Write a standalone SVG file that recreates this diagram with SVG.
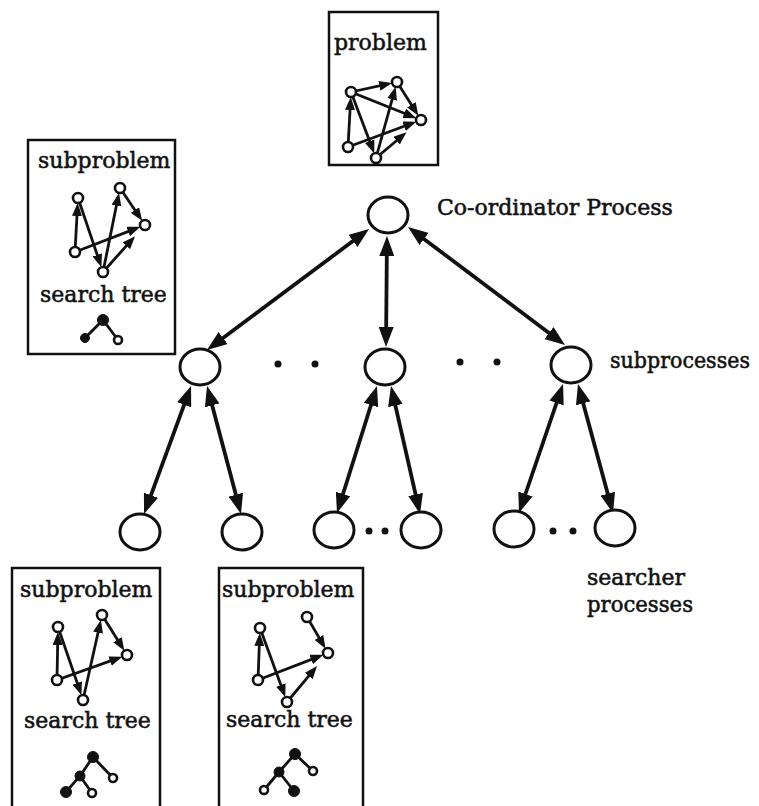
<svg xmlns="http://www.w3.org/2000/svg" width="759" height="806" viewBox="0 0 759 806">
  <style>
    .lbl { font-family: "DejaVu Serif", "Liberation Serif", serif; font-size: 22px; fill: #111; stroke: #111; stroke-width: 0.55; }
    .box { fill: #fff; stroke: #111; stroke-width: 2.5; }
    .proc { fill: #fff; stroke: #111; stroke-width: 3; }
    .link { fill: none; stroke: #111; stroke-width: 3.8; marker-start: url(#big); marker-end: url(#big); }
    .edge { fill: none; stroke: #111; stroke-width: 2.8; marker-end: url(#small); }
    .tedge { fill: none; stroke: #111; stroke-width: 2.8; }
    .v { fill: #fff; stroke: #111; stroke-width: 2.6; }
    .vf { fill: #111; stroke: #111; stroke-width: 1; }
    .dot { fill: #111; }
  </style>
  <defs>
    <marker id="big" viewBox="0 0 20 15" refX="10" refY="7.5" markerWidth="20" markerHeight="15" markerUnits="userSpaceOnUse" orient="auto-start-reverse">
      <path d="M0,0 L20,7.5 L0,15 z" fill="#111"/>
    </marker>
    <marker id="small" viewBox="0 0 13 10" refX="8" refY="5" markerWidth="13" markerHeight="10" markerUnits="userSpaceOnUse" orient="auto">
      <path d="M0,0 L13,5 L0,10 z" fill="#111"/>
    </marker>
  </defs>

  <!-- problem held by the co-ordinator -->
  <g id="problem-box">
    <rect class="box" x="329" y="12" width="109" height="153"/>
    <text class="lbl" x="334" y="50">problem</text>
    <path class="edge" d="M351,92 L387.2,84.1"/>
    <path class="edge" d="M351,92 L411.7,116.3"/>
    <path class="edge" d="M397,82 L415.7,111.5"/>
    <path class="edge" d="M348,147 L350.5,102"/>
    <path class="edge" d="M351,92 L372.5,148.7"/>
    <path class="edge" d="M376,158 L394.3,91.6"/>
    <path class="edge" d="M348,147 L411.6,123.5"/>
    <path class="edge" d="M376,158 L402.7,135.5"/>
    <circle class="v" cx="351" cy="92" r="5"/>
    <circle class="v" cx="397" cy="82" r="5"/>
    <circle class="v" cx="421" cy="120" r="5"/>
    <circle class="v" cx="348" cy="147" r="5"/>
    <circle class="v" cx="376" cy="158" r="5"/>
  </g>

  <!-- subproblem of a subprocess -->
  <g id="sub-box">
    <rect class="box" x="28" y="140" width="147" height="214"/>
    <text class="lbl" x="38" y="168">subproblem</text>
    <path class="edge" d="M75,252 L77.4,208"/>
    <path class="edge" d="M78,198 L99.8,262.5"/>
    <path class="edge" d="M103,272 L118,197.8"/>
    <path class="edge" d="M120,188 L139.4,216.7"/>
    <path class="edge" d="M75,252 L135.7,228.6"/>
    <path class="edge" d="M103,272 L131.7,239.9"/>
    <circle class="v" cx="78" cy="198" r="5"/>
    <circle class="v" cx="120" cy="188" r="5"/>
    <circle class="v" cx="145" cy="225" r="5"/>
    <circle class="v" cx="75" cy="252" r="5"/>
    <circle class="v" cx="103" cy="272" r="5"/>
    <text class="lbl" x="40" y="302">search tree</text>
    <path class="tedge" d="M85,338 L103,320 L118,340"/>
    <circle class="vf" cx="103" cy="320" r="5.5"/>
    <circle class="vf" cx="85" cy="338" r="4.5"/>
    <circle class="v" cx="118" cy="340" r="4"/>
  </g>

  <!-- subproblems of two searcher processes -->
  <g id="searcher-box-1">
    <rect class="box" x="12" y="568" width="148" height="260"/>
    <text class="lbl" x="20" y="597">subproblem</text>
    <path class="edge" d="M57,680 L57.8,637"/>
    <path class="edge" d="M58,627 L79.8,690.5"/>
    <path class="edge" d="M83,700 L99.8,624.8"/>
    <path class="edge" d="M102,615 L121.7,646.5"/>
    <path class="edge" d="M57,680 L117.6,658.4"/>
    <circle class="v" cx="58" cy="627" r="5"/>
    <circle class="v" cx="102" cy="615" r="5"/>
    <circle class="v" cx="127" cy="655" r="5"/>
    <circle class="v" cx="57" cy="680" r="5"/>
    <circle class="v" cx="83" cy="700" r="5"/>
    <text class="lbl" x="24" y="728">search tree</text>
    <path class="tedge" d="M113,778 L93,757 L80,776 L66,792 M80,776 L92,793"/>
    <circle class="vf" cx="93" cy="757" r="5.5"/>
    <circle class="vf" cx="80" cy="776" r="5"/>
    <circle class="v" cx="113" cy="778" r="4"/>
    <circle class="vf" cx="66" cy="792" r="5.5"/>
    <circle class="v" cx="92" cy="793" r="4"/>
  </g>

  <g id="searcher-box-2">
    <rect class="box" x="219" y="568" width="144" height="260"/>
    <text class="lbl" x="222" y="597">subproblem</text>
    <path class="edge" d="M258,680 L259.6,638"/>
    <path class="edge" d="M260,628 L283.6,692.6"/>
    <path class="edge" d="M307,617 L323,644.4"/>
    <path class="edge" d="M258,680 L318.7,656.6"/>
    <path class="edge" d="M287,702 L313.9,669.9"/>
    <circle class="v" cx="260" cy="628" r="5"/>
    <circle class="v" cx="307" cy="617" r="5"/>
    <circle class="v" cx="328" cy="653" r="5"/>
    <circle class="v" cx="258" cy="680" r="5"/>
    <circle class="v" cx="287" cy="702" r="5"/>
    <text class="lbl" x="226" y="727">search tree</text>
    <path class="tedge" d="M313,771 L295,754 L279,772 L264,790 M279,772 L294,791"/>
    <circle class="vf" cx="295" cy="754" r="5.5"/>
    <circle class="vf" cx="279" cy="772" r="5"/>
    <circle class="v" cx="313" cy="771" r="4"/>
    <circle class="v" cx="264" cy="790" r="4"/>
    <circle class="vf" cx="294" cy="791" r="5.5"/>
  </g>

  <!-- process tree -->
  <g id="connectors">
    <path class="link" d="M361,235 L215,344"/>
    <path class="link" d="M386.9,246 L386.1,337"/>
    <path class="link" d="M416,233 L557,339"/>
    <path class="link" d="M187.6,395.4 L147.5,504.6"/>
    <path class="link" d="M209.6,395.7 L238.4,504.3"/>
    <path class="link" d="M374,395.5 L340,503.5"/>
    <path class="link" d="M393.2,395.8 L417.8,504.2"/>
    <path class="link" d="M559.8,393.5 L522.2,503.5"/>
    <path class="link" d="M580.6,393.7 L610.4,503.4"/>
  </g>

  <g id="coordinator">
    <ellipse class="proc" cx="388" cy="215" rx="20" ry="18"/>
    <text class="lbl" x="437" y="215">Co-ordinator Process</text>
  </g>

  <g id="subprocess-1"><ellipse class="proc" cx="200" cy="367" rx="20" ry="18"/></g>
  <g id="subprocess-2"><ellipse class="proc" cx="385" cy="367" rx="20" ry="18"/></g>
  <g id="subprocess-3"><ellipse class="proc" cx="571" cy="365" rx="20" ry="18"/></g>
  <g id="subprocess-gaps">
    <circle class="dot" cx="278" cy="364" r="3.5"/>
    <circle class="dot" cx="315" cy="364" r="3.5"/>
    <circle class="dot" cx="460" cy="362" r="3.5"/>
    <circle class="dot" cx="497" cy="362" r="3.5"/>
  </g>
  <g id="subprocesses-label">
    <text class="lbl" x="610" y="368" textLength="140" lengthAdjust="spacingAndGlyphs">subprocesses</text>
  </g>

  <g id="searcher-1"><ellipse class="proc" cx="140" cy="532" rx="20" ry="18"/></g>
  <g id="searcher-2"><ellipse class="proc" cx="242" cy="532" rx="20" ry="18"/></g>
  <g id="searcher-3"><ellipse class="proc" cx="334" cy="530" rx="20" ry="18"/></g>
  <g id="searcher-4"><ellipse class="proc" cx="421" cy="530" rx="20" ry="18"/></g>
  <g id="searcher-5"><ellipse class="proc" cx="514" cy="529" rx="20" ry="18"/></g>
  <g id="searcher-6"><ellipse class="proc" cx="615" cy="528" rx="20" ry="18"/></g>
  <g id="searcher-gaps">
    <circle class="dot" cx="369" cy="531" r="3.5"/>
    <circle class="dot" cx="385" cy="531" r="3.5"/>
    <circle class="dot" cx="553" cy="531" r="3.5"/>
    <circle class="dot" cx="573" cy="531" r="3.5"/>
  </g>
  <g id="searchers-label">
    <text class="lbl" x="587" y="585">searcher</text>
    <text class="lbl" x="587" y="612" textLength="106" lengthAdjust="spacingAndGlyphs">processes</text>
  </g>
</svg>
